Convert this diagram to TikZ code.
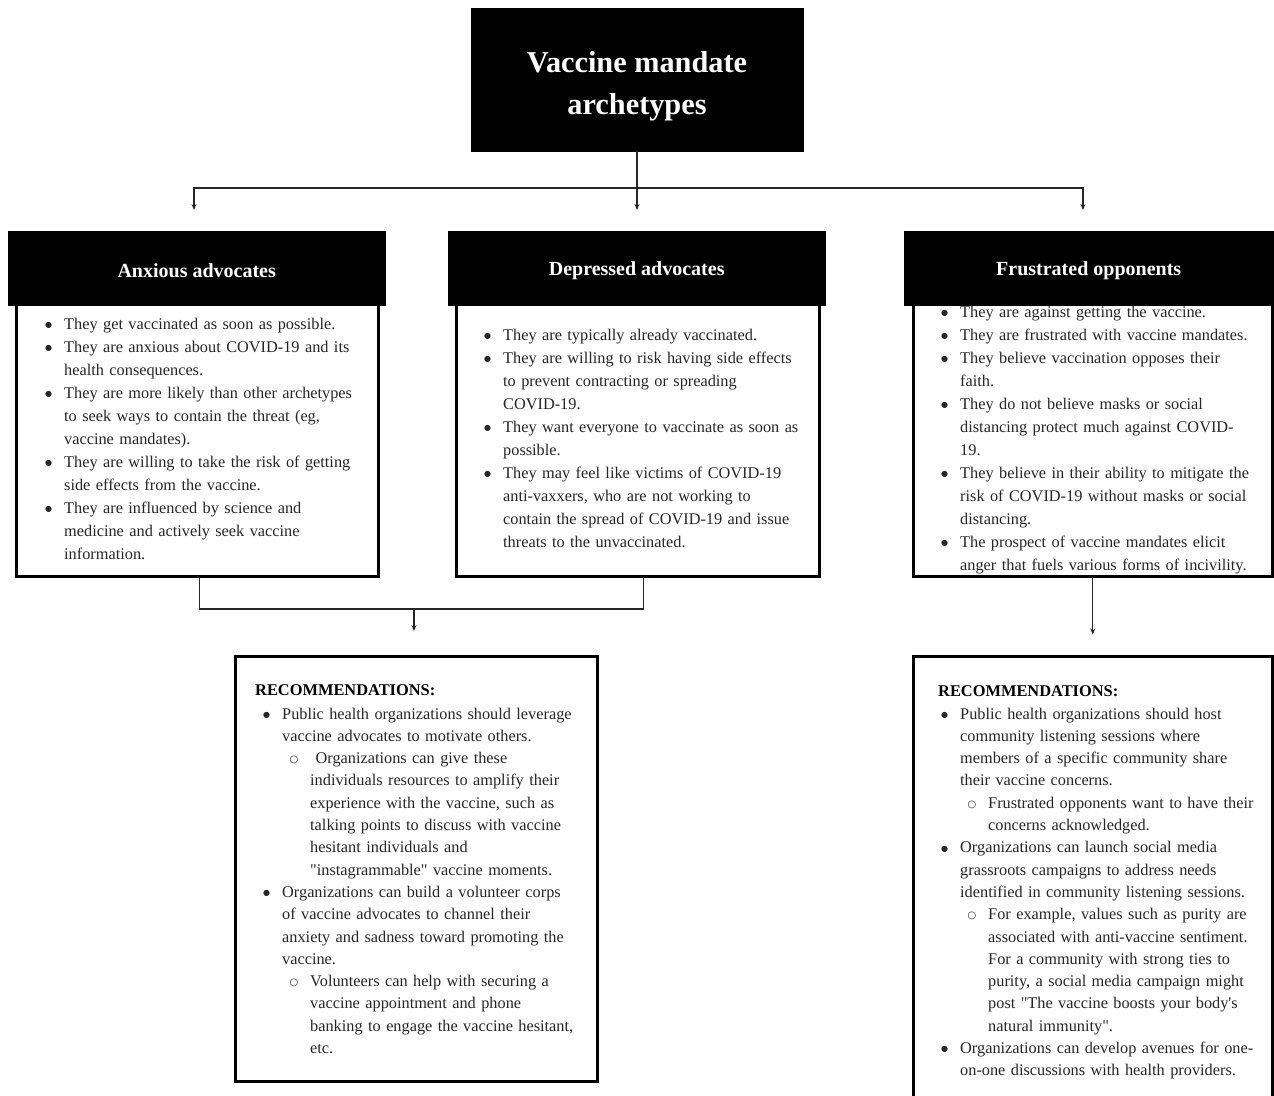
\documentclass[tikz,border=0pt]{standalone}
\usepackage{fontspec}
\setmainfont{Liberation Serif}
\newfontfamily\symfont{DejaVu Sans}
\usetikzlibrary{arrows.meta}

\newcommand{\bul}{\makebox[19pt][l]{\raisebox{1.6pt}{\symfont\fontsize{8}{8}\selectfont ●}}}
\newcommand{\cnt}{\hspace*{19pt}}
\newcommand{\sbul}{\hspace*{26.5pt}\makebox[20.5pt][l]{\raisebox{1.2pt}{\symfont\bfseries\fontsize{10}{10}\selectfont ○}}}
\newcommand{\scnt}{\hspace*{47pt}}

\tikzset{
  darkbox/.style={draw=black, fill=black, text=white, inner sep=0pt,
    font=\bfseries\fontsize{20}{24}\selectfont, execute at begin node=\rule{0pt}{18pt}},
  lightbox/.style={draw=black, line width=2.5pt, fill=white, inner sep=0pt},
  bodytext/.style={anchor=base west, inner sep=0pt, text width=340pt, align=left,
    text=black!85, font=\fontsize{16.3}{23}\selectfont},
  rectext/.style={bodytext, font=\fontsize{16.3}{22.3}\selectfont},
  rechead/.style={anchor=base west, inner sep=0pt, font=\bfseries\fontsize{16.4}{20}\selectfont},
  link/.style={line width=1.2pt, draw=black!85},
  tip/.style={link, -{Stealth[length=6pt,width=5pt]}}
}

\begin{document}
\begin{tikzpicture}[x=1pt,y=-1pt]
  \useasboundingbox (0,0) rectangle (1274,1095);

  \node[darkbox, minimum width=332, minimum height=143, align=center,
    font=\bfseries\fontsize{30.3}{42}\selectfont] (title) at (637,79.5) {\rule{0pt}{35pt}Vaccine mandate\\archetypes};

  \node[lightbox, minimum width=362, minimum height=275, anchor=north west] (anxbody) at (15,300) {};
  \node[lightbox, minimum width=363, minimum height=275, anchor=north west] (depbody) at (455,300) {};
  \node[lightbox, minimum width=359, minimum height=275, anchor=north west] (frusbody) at (912,300) {};

  \node[darkbox, minimum width=377, minimum height=74, anchor=north west] (anxhead) at (8,231) {Anxious advocates};
  \node[darkbox, minimum width=377, minimum height=74, anchor=north west] (dephead) at (448,231) {Depressed advocates};
  \node[darkbox, minimum width=369, minimum height=74, anchor=north west] (frushead) at (904,231) {Frustrated opponents};

  \node[lightbox, minimum width=362, minimum height=425, anchor=north west] (anxrec) at (234,655) {};
  \node[lightbox, minimum width=359, minimum height=450, anchor=north west] (frusrec) at (912,655) {};

  \node[bodytext] (anxlist) at (45,329) {\bul They get vaccinated as soon as possible.\\
    \bul They are anxious about COVID-19 and its\\
    \cnt health consequences.\\
    \bul They are more likely than other archetypes\\
    \cnt to seek ways to contain the threat (eg,\\
    \cnt vaccine mandates).\\
    \bul They are willing to take the risk of getting\\
    \cnt side effects from the vaccine.\\
    \bul They are influenced by science and\\
    \cnt medicine and actively seek vaccine\\
    \cnt information.};

  \node[bodytext] (deplist) at (484,340) {\bul They are typically already vaccinated.\\
    \bul They are willing to risk having side effects\\
    \cnt to prevent contracting or spreading\\
    \cnt COVID-19.\\
    \bul They want everyone to vaccinate as soon as\\
    \cnt possible.\\
    \bul They may feel like victims of COVID-19\\
    \cnt anti-vaxxers, who are not working to\\
    \cnt contain the spread of COVID-19 and issue\\
    \cnt threats to the unvaccinated.};

  \node[bodytext] (fruslist) at (941,317) {\bul They are against getting the vaccine.\\
    \bul They are frustrated with vaccine mandates.\\
    \bul They believe vaccination opposes their\\
    \cnt faith.\\
    \bul They do not believe masks or social\\
    \cnt distancing protect much against COVID-\\
    \cnt 19.\\
    \bul They believe in their ability to mitigate the\\
    \cnt risk of COVID-19 without masks or social\\
    \cnt distancing.\\
    \bul The prospect of vaccine mandates elicit\\
    \cnt anger that fuels various forms of incivility.};

  \node[rechead] (anxrechead) at (255,695.5) {RECOMMENDATIONS:};
  \node[rectext] (anxreclist) at (263,719) {\bul Public health organizations should leverage\\
    \cnt vaccine advocates to motivate others.\\
    \sbul\ Organizations can give these\\
    \scnt individuals resources to amplify their\\
    \scnt experience with the vaccine, such as\\
    \scnt talking points to discuss with vaccine\\
    \scnt hesitant individuals and\\
    \scnt \textquotedbl instagrammable\textquotedbl\ vaccine moments.\\
    \bul Organizations can build a volunteer corps\\
    \cnt of vaccine advocates to channel their\\
    \cnt anxiety and sadness toward promoting the\\
    \cnt vaccine.\\
    \sbul Volunteers can help with securing a\\
    \scnt vaccine appointment and phone\\
    \scnt banking to engage the vaccine hesitant,\\
    \scnt etc.};

  \node[rechead] (frusrechead) at (938,696.5) {RECOMMENDATIONS:};
  \node[rectext] (frusreclist) at (941,719) {\bul Public health organizations should host\\
    \cnt community listening sessions where\\
    \cnt members of a specific community share\\
    \cnt their vaccine concerns.\\
    \sbul Frustrated opponents want to have their\\
    \scnt concerns acknowledged.\\
    \bul Organizations can launch social media\\
    \cnt grassroots campaigns to address needs\\
    \cnt identified in community listening sessions.\\
    \sbul For example, values such as purity are\\
    \scnt associated with anti-vaccine sentiment.\\
    \scnt For a community with strong ties to\\
    \scnt purity, a social media campaign might\\
    \scnt post \textquotedbl The vaccine boosts your body\textquotesingle s\\
    \scnt natural immunity\textquotedbl.\\
    \bul Organizations can develop avenues for one-\\
    \cnt on-one discussions with health providers.};

  \coordinate (split) at (637,188);
  \coordinate (anxin) at (194,210);
  \coordinate (depin) at (637,210);
  \coordinate (frusin) at (1083,210);
  \draw[link] (title.south) -- (split);
  \draw[tip] (split) -| (anxin);
  \draw[tip] (split) -- (depin);
  \draw[tip] (split) -| (frusin);

  \coordinate (merge) at (414,609);
  \coordinate (anxrecin) at (414,631);
  \path (frusbody.south) ++(0,57) coordinate (frusrecin);
  \draw[link] ([xshift=2pt]anxbody.south) |- (merge) -| ([xshift=6pt]depbody.south);
  \draw[tip] (merge) -- (anxrecin);
  \draw[tip] (frusbody.south) -- (frusrecin);
\end{tikzpicture}
\end{document}
